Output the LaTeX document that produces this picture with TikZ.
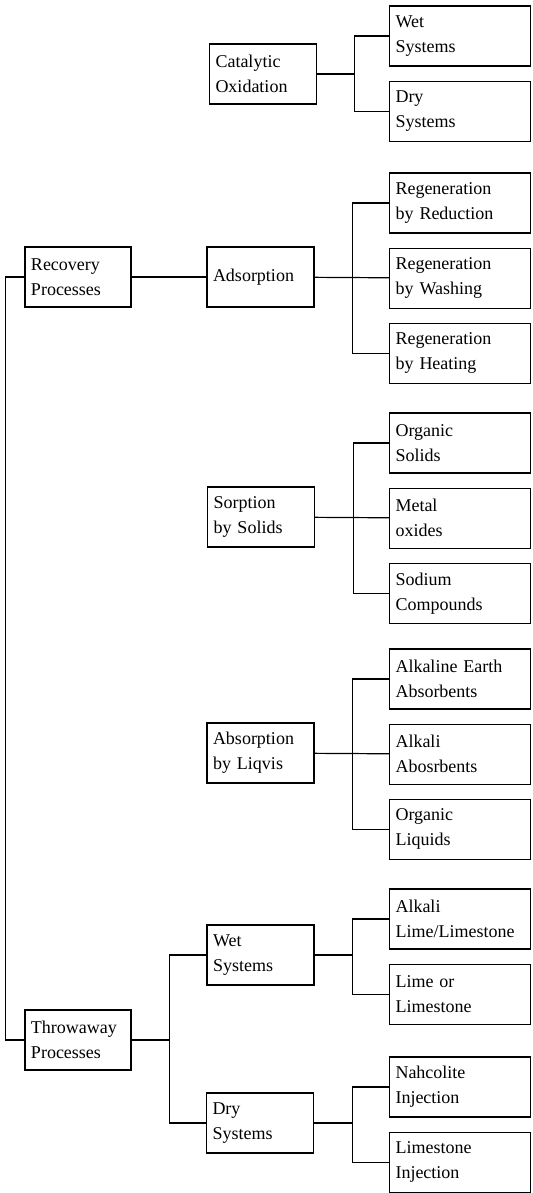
\documentclass[tikz,border=0pt]{standalone}
\usepackage{fontspec}
\setmainfont{Liberation Serif}
\usetikzlibrary{positioning}
\tikzset{
  blk/.style={draw,rectangle,line width=0.6pt,align=left,inner xsep=3pt,inner ysep=0pt,minimum height=30pt,font=\fontsize{9}{12.5}\selectfont},
  topblk/.style={blk,text width=47pt},
  midblk/.style={blk,text width=47.5pt},
  leafblk/.style={blk,text width=64.5pt},
  conn/.style={line width=0.6pt}
}

\begin{document}
\begin{tikzpicture}[x=0.5pt,y=-0.5pt,node distance=7pt]
  \useasboundingbox (0,0) rectangle (532,1193);

  % catalytic oxidation
  \node[midblk] (catox) at (263,74) {Catalytic\\Oxidation};
  \node[leafblk] (cwet) at (460,36) {Wet\\Systems};
  \node[leafblk,below=of cwet] (cdry) {Dry\\Systems};

  % recovery processes
  \node[topblk] (recov) at (78,277) {Recovery\\Processes};
  \node[midblk] (adsorp) at (260.5,277) {Adsorption};
  \node[leafblk] (regred) at (460,203) {Regeneration\\by Reduction};
  \node[leafblk,below=of regred] (regwash) {Regeneration\\by Washing};
  \node[leafblk,below=of regwash] (regheat) {Regeneration\\by Heating};

  \node[midblk] (sorpsol) at (261,517) {Sorption\\by Solids};
  \node[leafblk] (orgsol) at (460,443) {Organic\\Solids};
  \node[leafblk,below=of orgsol] (metox) {Metal\\oxides};
  \node[leafblk,below=of metox] (sodium) {Sodium\\Compounds};

  \node[midblk] (absliq) at (260.5,753) {Absorption\\by Liqvis};
  \node[leafblk] (alkearth) at (460,679) {Alkaline Earth\\Absorbents};
  \node[leafblk,below=of alkearth] (alkabs) {Alkali\\Abosrbents};
  \node[leafblk,below=of alkabs] (orgliq) {Organic\\Liquids};

  % throwaway processes
  \node[topblk] (throw) at (78,1040) {Throwaway\\Processes};
  \node[midblk] (wetsys) at (260.5,955) {Wet\\Systems};
  \node[midblk] (drysys) at (260,1123) {Dry\\Systems};
  \node[leafblk] (alklime) at (460,919) {Alkali\\Lime/Limestone};
  \node[leafblk,below=of alklime] (limeor) {Lime or\\Limestone};
  \node[leafblk] (nahc) at (460,1087) {Nahcolite\\Injection};
  \node[leafblk,below=of nahc] (limeinj) {Limestone\\Injection};

  % junctions
  \path (catox.east) ++(37,0) coordinate (jcat);
  \path (adsorp.east) ++(38,0) coordinate (jads);
  \path (sorpsol.east) ++(38,0) coordinate (jsorp);
  \path (absliq.east) ++(38,0) coordinate (jabs);
  \path (recov.west) ++(-19,0) coordinate (jproc);
  \path (throw.east) ++(38,0) coordinate (jthr);
  \path (wetsys.east) ++(38,0) coordinate (jwet);
  \path (drysys.east) ++(38,0) coordinate (jdry);

  \draw[conn] (catox.east)--(jcat);
  \draw[conn] (cwet.west)-|(jcat)|-(cdry.west);

  \draw[conn] (recov.west)--(jproc)|-(throw.west);
  \draw[conn] (recov)--(adsorp);
  \draw[conn] (adsorp)--(regwash);
  \draw[conn] (regred.west)-|(jads)|-(regheat.west);

  \draw[conn] (sorpsol)--(metox);
  \draw[conn] (orgsol.west)-|(jsorp)|-(sodium.west);

  \draw[conn] (absliq)--(alkabs);
  \draw[conn] (alkearth.west)-|(jabs)|-(orgliq.west);

  \draw[conn] (throw.east)--(jthr);
  \draw[conn] (wetsys.west)-|(jthr)|-(drysys.west);
  \draw[conn] (wetsys.east)--(jwet);
  \draw[conn] (alklime.west)-|(jwet)|-(limeor.west);
  \draw[conn] (drysys.east)--(jdry);
  \draw[conn] (nahc.west)-|(jdry)|-(limeinj.west);
\end{tikzpicture}
\end{document}
